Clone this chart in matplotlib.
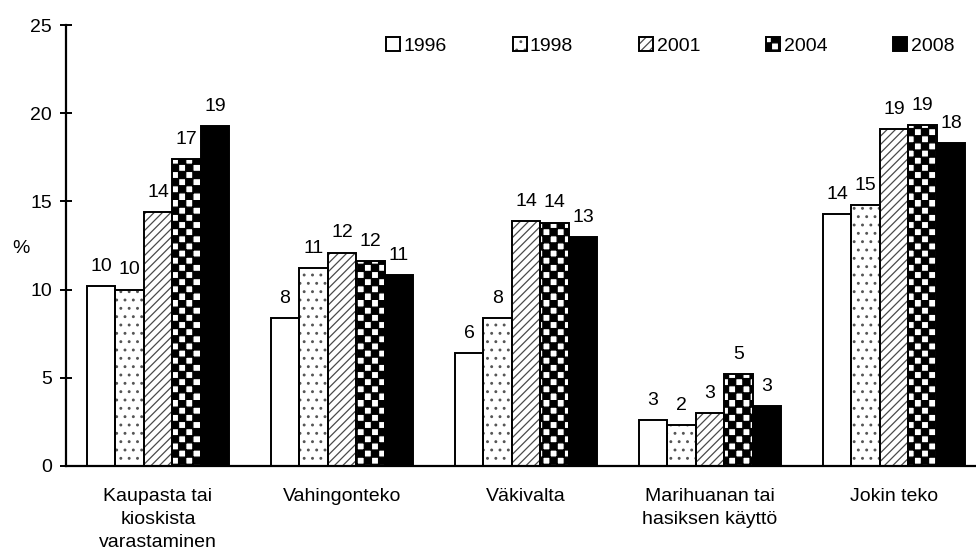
import warnings
warnings.filterwarnings("ignore")
import numpy as np
import matplotlib
matplotlib.use("Agg")
import matplotlib.pyplot as plt
import matplotlib.hatch as mhatch
from matplotlib.path import Path

categories = ["Kaupasta tai\nkioskista\nvarastaminen", "Vahingonteko", "Väkivalta",
              "Marihuanan tai\nhasiksen käyttö", "Jokin teko"]
years = ["1996", "1998", "2001", "2004", "2008"]
v1996 = [10.2, 8.4, 6.4, 2.6, 14.3]
v1998 = [10.0, 11.2, 8.4, 2.3, 14.8]
v2001 = [14.4, 12.1, 13.9, 3.0, 19.1]
v2004 = [17.4, 11.6, 13.8, 5.2, 19.35]
v2008 = [19.25, 10.8, 13.0, 3.4, 18.3]
series = [v1996, v1998, v2001, v2004, v2008]
yticks = [0, 5, 10, 15, 20, 25]


class CheckerHatch(mhatch.HatchPatternBase):
    def __init__(self, hatch, density):
        self.n = 14 * hatch.count('c')
        self.num_vertices = (self.n * self.n // 2) * 5 if self.n else 0

    def set_vertices_and_codes(self, vertices, codes):
        s = 1.0 / self.n
        k = 0
        for i in range(self.n):
            for j in range(self.n):
                if (i + j) % 2 == 0:
                    x0, y0 = i * s, j * s
                    vertices[k:k + 5] = [(x0, y0), (x0 + s, y0), (x0 + s, y0 + s),
                                         (x0, y0 + s), (x0, y0)]
                    codes[k] = Path.MOVETO
                    codes[k + 1:k + 4] = Path.LINETO
                    codes[k + 4] = Path.CLOSEPOLY
                    k += 5


mhatch._hatch_types.append(CheckerHatch)

FS = 14
plt.rcParams['font.family'] = ['Liberation Sans', 'DejaVu Sans']
plt.rcParams['font.size'] = FS
plt.rcParams['hatch.linewidth'] = 0.9

styles = [
    dict(face='white', hatch=None, hcol='black'),
    dict(face='white', hatch='..', hcol='#555555'),
    dict(face='white', hatch='////', hcol='#4a4a4a'),
    dict(face='white', hatch='c', hcol='black'),
    dict(face='black', hatch=None, hcol='black'),
]

fig = plt.figure(figsize=(9.76, 5.58), dpi=100)
ax = fig.add_axes([66 / 976, 92 / 558, 920 / 976, 441 / 558])

x = np.arange(len(categories))
w = 0.155
handles = []
for i, (vals, st) in enumerate(zip(series, styles)):
    pos = x + (i - 2) * w
    b1 = ax.bar(pos, vals, w, color=st['face'], edgecolor=st['hcol'], linewidth=0,
                hatch=st['hatch'], zorder=2)
    b2 = ax.bar(pos, vals, w, facecolor='none', edgecolor='black', linewidth=1.4, zorder=3)
    handles.append((b1[0], b2[0]))
    for p, v in zip(pos, vals):
        ax.annotate(f"{v:.0f}", (p, v), xytext=(0, 8), textcoords='offset points',
                    ha='center', va='bottom', fontsize=FS)

ax.set_xlim(-0.5, 4.5)
ax.set_ylim(0, 25)
ax.set_yticks(yticks)
ax.set_xticks(x)
ax.set_xticklabels(categories, fontsize=FS, linespacing=1.45)
ax.tick_params(axis='x', length=0, pad=16)
ax.tick_params(axis='y', direction='inout', length=8, width=1.4, pad=6, labelsize=FS)
for s in ['top', 'right']:
    ax.spines[s].set_visible(False)
for s in ['left', 'bottom']:
    ax.spines[s].set_linewidth(1.6)
ax.set_ylabel('%', rotation=0, fontsize=FS)
ax.yaxis.set_label_coords(-0.049, 0.494)
ax.yaxis.label.set_verticalalignment('center')
ax.yaxis.label.set_horizontalalignment('center')

leg = fig.legend(handles, years, loc='upper left', bbox_to_anchor=(386 / 976, 1 - 37 / 558),
                 ncol=5, frameon=False, handlelength=0.72, handleheight=0.75,
                 handletextpad=0.17, columnspacing=3.4, borderpad=0, borderaxespad=0,
                 fontsize=FS)

fig.savefig('out.png', dpi=100)
